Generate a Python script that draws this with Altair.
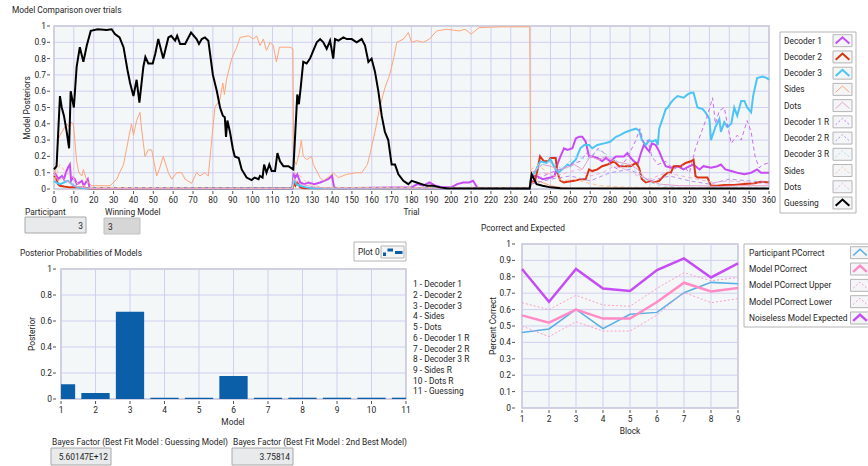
import altair as alt
import pandas as pd

# ---------------------------------------------------------------- data
TRIAL_TICKS = list(range(0, 361, 10))
POSTERIOR_TICKS = [0, 0.1, 0.2, 0.3, 0.4, 0.5, 0.6, 0.7, 0.8, 0.9, 1]

SERIES_NAMES = ["Decoder 1", "Decoder 2", "Decoder 3", "Sides", "Dots",
                "Decoder 1 R", "Decoder 2 R", "Decoder 3 R", "Sides", "Dots",
                "Guessing"]

# (trial, posterior) pairs
DECODER_1 = [(0, 0.1), (1, 0.09), (2, 0.06), (3, 0.07), (4, 0.08), (5, 0.06), (6, 0.1),
             (7, 0.13), (8, 0.15), (8.6, 0.05), (9.5, 0.07), (10.5, 0.06), (11.5, 0.03),
             (13, 0.04), (14, 0.05), (15, 0.02), (16, 0.04), (17, 0.06), (18, 0.005),
             (120, 0.005), (120.7, 0.1), (121.5, 0.07), (122.5, 0.09), (124, 0.04),
             (126, 0.03), (128, 0.04), (131, 0.03), (134, 0.04), (136, 0.05), (138, 0.06),
             (140, 0.08), (141, 0.01), (143, 0.005), (180, 0.01), (183, 0.03), (186, 0.02),
             (189, 0.04), (192, 0.02), (196, 0.01), (200, 0.01), (203, 0.03), (206, 0.04),
             (209, 0.04), (211, 0.05), (213, 0.01), (215, 0.005), (239.5, 0.005),
             (240.3, 0.08), (243, 0.08), (246, 0.06), (250, 0.07), (252, 0.08),
             (253.4, 0.15), (255, 0.2), (256.8, 0.25), (258.5, 0.24), (261, 0.25),
             (262.7, 0.31), (264.4, 0.32), (266, 0.32), (267.7, 0.29), (269.4, 0.2),
             (271, 0.2), (273.6, 0.19), (276, 0.17), (277.8, 0.19), (280, 0.17),
             (283, 0.2), (285, 0.2), (287, 0.2), (288.7, 0.22), (290.4, 0.19),
             (292, 0.17), (293.8, 0.15), (295.5, 0.22), (297, 0.27), (299.7, 0.23),
             (301, 0.28), (303, 0.27), (304.7, 0.23), (306.4, 0.18), (308, 0.14),
             (310.6, 0.13), (314, 0.14), (317, 0.12), (320, 0.14), (322, 0.15),
             (325, 0.12), (327, 0.14), (330.8, 0.13), (334, 0.14), (335.8, 0.15),
             (338, 0.12), (341, 0.11), (344, 0.1), (347.6, 0.09), (351, 0.1),
             (354, 0.12), (356, 0.1), (360, 0.1)]

DECODER_2 = [(0, 0.08), (1, 0.07), (2, 0.03), (3, 0.02), (5, 0.015), (8, 0.01), (12, 0.01),
             (18, 0.003), (120, 0.003), (120.7, 0.04), (121.5, 0.02), (122.5, 0.04),
             (124, 0.01), (126, 0.005), (239.5, 0.003), (240.3, 0.05), (242, 0.04),
             (243.5, 0.12), (244.7, 0.2), (246.7, 0.17), (249, 0.17), (250, 0.19),
             (252.6, 0.19), (253.4, 0.1), (255, 0.05), (256.8, 0.04), (258.5, 0.045),
             (262, 0.05), (265, 0.06), (267.7, 0.06), (269.4, 0.12), (271, 0.11),
             (273.6, 0.12), (276, 0.14), (278.7, 0.15), (282, 0.17), (284.5, 0.14),
             (287, 0.14), (290.4, 0.14), (293, 0.16), (294.6, 0.13), (296, 0.06),
             (298, 0.04), (300.5, 0.05), (302, 0.04), (304.7, 0.05), (307, 0.08),
             (309, 0.1), (310.6, 0.1), (312, 0.14), (315.6, 0.14), (318, 0.16),
             (320.7, 0.17), (322, 0.18), (323, 0.08), (324, 0.07), (329, 0.07),
             (330.8, 0.02), (334, 0.02), (337.5, 0.025), (342.5, 0.025), (347.6, 0.03),
             (352.6, 0.035), (356, 0.045), (360, 0.04)]

DECODER_3 = [(0, 0.05), (1, 0.04), (3, 0.03), (5, 0.04), (7, 0.05), (8, 0.04), (10, 0.02),
             (12, 0.01), (15, 0.005), (120, 0.003), (120.7, 0.06), (122, 0.03), (124, 0.02),
             (127, 0.01), (130, 0.005), (239.5, 0.003), (240.3, 0.08), (242, 0.1),
             (244, 0.15), (245, 0.17), (248, 0.16), (250, 0.18), (252.6, 0.12), (254, 0.1),
             (256.8, 0.13), (258.5, 0.15), (260, 0.14), (261, 0.16), (262.7, 0.18),
             (265, 0.25), (267, 0.27), (269.4, 0.27), (271, 0.25), (273.6, 0.27),
             (277, 0.28), (280, 0.29), (283, 0.32), (285, 0.33), (288, 0.35),
             (290.4, 0.36), (293, 0.37), (294.6, 0.36), (296, 0.3), (298, 0.27),
             (299.7, 0.3), (301, 0.29), (303, 0.3), (304, 0.27), (304.7, 0.37),
             (306.4, 0.43), (308, 0.49), (309, 0.5), (310.6, 0.53), (312, 0.55),
             (314, 0.57), (317, 0.56), (319, 0.58), (320.7, 0.59), (322, 0.59),
             (324, 0.5), (326.6, 0.49), (328, 0.47), (330, 0.43), (330.8, 0.3),
             (331.6, 0.33), (333, 0.38), (335, 0.43), (335.8, 0.35), (337.5, 0.41),
             (339, 0.38), (341, 0.4), (342.5, 0.5), (344, 0.45), (346, 0.54),
             (347.6, 0.54), (349, 0.5), (351, 0.47), (352, 0.57), (354, 0.68),
             (356.8, 0.69), (359, 0.68), (360, 0.67)]

SIDES = [(0, 0.08), (1, 0.12), (2, 0.3), (3, 0.33), (4.5, 0.36), (6.4, 0.4), (7.5, 0.38),
         (8.5, 0.41), (9.7, 0.4), (10.5, 0.3), (11.4, 0.17), (12.5, 0.1), (14, 0.08),
         (14.8, 0.12), (15.3, 0.1), (16.5, 0.05), (18.9, 0.02), (28.2, 0.02),
         (31.6, 0.06), (33, 0.1), (35, 0.15), (37.4, 0.3), (39, 0.4), (40, 0.33),
         (41.6, 0.42), (43.3, 0.47), (44, 0.38), (45.8, 0.2), (47.5, 0.24), (49.2, 0.24),
         (51.7, 0.08), (53, 0.12), (55, 0.2), (57.6, 0.1), (59.3, 0.06), (61.8, 0.1),
         (64.3, 0.1), (66, 0.06), (69.3, 0.035), (71.8, 0.1), (73.5, 0.08), (76, 0.1),
         (77.7, 0.08), (79.4, 0.3), (81, 0.5), (83.6, 0.55), (85, 0.65), (85.8, 0.58),
         (87, 0.68), (89.5, 0.8), (92, 0.87), (93.7, 0.93), (97.9, 0.94), (100.4, 0.92),
         (102, 0.94), (103.7, 0.88), (105.4, 0.92), (107, 0.85), (108.8, 0.9),
         (110.4, 0.88), (112, 0.78), (113.5, 0.87), (118.8, 0.87), (120.3, 0.86),
         (120.7, 0.18), (122, 0.15), (123.5, 0.22), (124.5, 0.3), (125.5, 0.2),
         (127.2, 0.18), (129.7, 0.2), (130.6, 0.15), (134, 0.07), (135.6, 0.05),
         (139, 0.08), (140.6, 0.1), (143.2, 0.07), (147.4, 0.09), (152.4, 0.1),
         (154.9, 0.1), (157.8, 0.15), (159.2, 0.22), (161.6, 0.35), (164, 0.5),
         (166.6, 0.62), (169, 0.7), (171, 0.8), (172.6, 0.9), (176, 0.92), (178.4, 0.96),
         (180, 0.9), (182.6, 0.91), (186, 0.9), (189, 0.92), (192.7, 0.97),
         (197.7, 0.98), (204, 0.97), (207, 0.98), (210, 0.95), (214, 0.99),
         (225, 0.995), (239.5, 0.995), (240, 0.03), (243, 0.05), (246, 0.04),
         (250, 0.02), (255, 0.01), (260, 0.005), (360, 0.003)]

DOTS = [(0, 0.1), (2, 0.05), (4, 0.07), (6, 0.05), (8, 0.04), (10, 0.02), (14, 0.01),
        (18, 0.003), (120, 0.003), (121, 0.06), (124, 0.03), (128, 0.02), (132, 0.01),
        (136, 0.005), (239.5, 0.003), (240.5, 0.1), (243, 0.12), (246, 0.15),
        (250, 0.14), (254, 0.12), (258, 0.13), (262, 0.15), (266, 0.12), (270, 0.2),
        (274, 0.18), (278, 0.2), (282, 0.17), (286, 0.16), (290, 0.15), (294, 0.12),
        (298, 0.06), (305, 0.03), (315, 0.02), (325, 0.02), (335, 0.015), (345, 0.02),
        (360, 0.02)]

DECODER_1_R = [(240.3, 0.05), (245, 0.07), (250, 0.1), (255, 0.12), (260, 0.15), (265, 0.17),
               (268, 0.22), (271, 0.2), (274, 0.25), (277, 0.22), (280, 0.15), (284, 0.12),
               (288, 0.18), (291, 0.25), (293, 0.3), (295, 0.37), (297, 0.28), (299, 0.3),
               (301, 0.2), (304, 0.15), (308, 0.17), (312, 0.12), (316, 0.15), (320, 0.1),
               (323, 0.25), (326, 0.35), (329, 0.45), (331.6, 0.56), (333, 0.4), (335, 0.48),
               (337.5, 0.5), (339, 0.4), (341, 0.28), (344, 0.33), (346, 0.3), (349, 0.42),
               (351, 0.35), (353, 0.2), (355, 0.13), (357, 0.15), (360, 0.16)]

DECODER_2_R = [(240.3, 0.03), (250, 0.06), (260, 0.08), (270, 0.05), (280, 0.1), (290, 0.12),
               (300, 0.05), (310, 0.08), (320, 0.05), (330, 0.03), (340, 0.06), (350, 0.05),
               (360, 0.04)]

DECODER_3_R = [(240.3, 0.08), (244, 0.14), (250, 0.17), (256, 0.12), (262, 0.2), (268, 0.18),
               (274, 0.24), (280, 0.2), (286, 0.15), (292, 0.12), (298, 0.05), (305, 0.02),
               (315, 0.01), (360, 0.01)]

SIDES_R = [(0, 0.05), (3, 0.15), (6, 0.1), (9, 0.08), (12, 0.03), (18, 0.01), (120, 0.005),
           (121, 0.1), (124, 0.08), (128, 0.03), (135, 0.01), (239.5, 0.01), (240.3, 0.12),
           (244, 0.15), (248, 0.1), (252, 0.08), (256, 0.05), (262, 0.06), (268, 0.04),
           (275, 0.02), (290, 0.01), (360, 0.005)]

DOTS_R = [(240.3, 0.06), (246, 0.1), (252, 0.08), (258, 0.1), (264, 0.12), (270, 0.08),
          (276, 0.1), (282, 0.14), (288, 0.12), (294, 0.08), (300, 0.06), (308, 0.1),
          (316, 0.08), (324, 0.06), (332, 0.04), (340, 0.05), (350, 0.04), (360, 0.03)]

GUESSING = [(0, 0.12), (1.3, 0.14), (3, 0.57), (3.9, 0.5), (5, 0.45), (6.4, 0.35), (7.6, 0.25),
            (8.4, 0.6), (9.2, 0.55), (10, 0.5), (11.4, 0.75), (13, 0.87), (14.8, 0.78),
            (16.5, 0.88), (18.5, 0.97), (22, 0.98), (26.5, 0.975), (29, 0.98), (30.7, 0.95),
            (33, 0.93), (35, 0.87), (37, 0.73), (38.3, 0.65), (40, 0.57), (41.6, 0.67),
            (43, 0.53), (45, 0.75), (46, 0.81), (47.5, 0.77), (49.7, 0.77), (51, 0.83),
            (52.5, 0.92), (55, 0.8), (57.6, 0.93), (59, 0.94), (61, 0.91), (62, 0.94),
            (63.5, 0.89), (66, 0.89), (69, 0.96), (71.8, 0.92), (73, 0.89), (74.4, 0.92),
            (76, 0.93), (77.7, 0.91), (80, 0.7), (82, 0.6), (83.6, 0.5), (85, 0.45),
            (86, 0.44), (86.6, 0.32), (87.3, 0.42), (88.6, 0.35), (90, 0.25), (91, 0.2),
            (93, 0.19), (94.5, 0.12), (97, 0.07), (99.5, 0.055), (101, 0.07), (103, 0.06),
            (103.7, 0.08), (105, 0.07), (105.8, 0.15), (107, 0.1), (108.4, 0.15),
            (109.6, 0.11), (111.3, 0.11), (112.5, 0.22), (113.8, 0.17), (115.5, 0.14),
            (118, 0.14), (120.5, 0.12), (121.5, 0.35), (122.5, 0.58), (123.3, 0.52),
            (124.2, 0.62), (125.5, 0.78), (127.2, 0.77), (128.9, 0.8), (130.6, 0.85),
            (132.3, 0.9), (134, 0.92), (135.6, 0.9), (137.3, 0.86), (139, 0.91),
            (140.6, 0.8), (141.5, 0.92), (143.2, 0.91), (145.7, 0.93), (147.4, 0.92),
            (149.9, 0.92), (152.4, 0.9), (154.9, 0.92), (156.6, 0.88), (158.3, 0.78),
            (159.9, 0.8), (161.6, 0.72), (163.3, 0.6), (165, 0.45), (166.6, 0.35),
            (168.3, 0.3), (170, 0.15), (171.7, 0.15), (173.4, 0.09), (175.9, 0.05),
            (178.4, 0.03), (180.1, 0.05), (182.6, 0.04), (185.1, 0.03), (187.7, 0.02),
            (191, 0.02), (194.4, 0.01), (197.7, 0.005), (239.5, 0.003), (240.5, 0.09),
            (243, 0.03), (246, 0.02), (250, 0.01), (255, 0.004), (360, 0.003)]

SERIES_POINTS = [DECODER_1, DECODER_2, DECODER_3, SIDES, DOTS,
                 DECODER_1_R, DECODER_2_R, DECODER_3_R, SIDES_R, DOTS_R, GUESSING]

MODEL_NUMBERS = [1, 2, 3, 4, 5, 6, 7, 8, 9, 10, 11]
MODEL_POSTERIORS = [0.113, 0.046, 0.672, 0.01, 0.01, 0.177, 0.01, 0.01, 0.01, 0.01, 0.01]
MODEL_NAMES = ["1 - Decoder 1", "2 - Decoder 2", "3 - Decoder 3", "4 - Sides", "5 - Dots",
               "6 - Decoder 1 R", "7 - Decoder 2 R", "8 - Decoder 3 R", "9 - Sides R",
               "10 - Dots R", "11 - Guessing"]
MODEL_Y_TICKS = [0, 0.2, 0.4, 0.6, 0.8, 1]

BLOCKS = [1, 2, 3, 4, 5, 6, 7, 8, 9]
PARTICIPANT_PCORRECT = [0.461, 0.482, 0.601, 0.484, 0.571, 0.583, 0.703, 0.766, 0.758]
MODEL_PCORRECT = [0.565, 0.52, 0.6, 0.545, 0.545, 0.646, 0.764, 0.711, 0.732]
MODEL_PCORRECT_UPPER = [0.642, 0.6, 0.687, 0.628, 0.62, 0.73, 0.825, 0.776, 0.796]
MODEL_PCORRECT_LOWER = [0.5, 0.435, 0.526, 0.469, 0.469, 0.567, 0.705, 0.642, 0.667]
NOISELESS_EXPECTED = [0.848, 0.648, 0.848, 0.728, 0.713, 0.841, 0.912, 0.796, 0.882]
PC_NAMES = ["Participant PCorrect", "Model PCorrect", "Model PCorrect Upper",
            "Model PCorrect Lower", "Noiseless Model Expected"]
PC_SERIES = [PARTICIPANT_PCORRECT, MODEL_PCORRECT, MODEL_PCORRECT_UPPER,
             MODEL_PCORRECT_LOWER, NOISELESS_EXPECTED]

PARTICIPANT_ID = "3"
WINNING_MODEL = "3"
BF_GUESSING = "5.60147E+12"
BF_SECOND = "3.75814"

# ---------------------------------------------------------------- style
W, H = 868, 466
FONT = "Roboto"
FS = 8.4
TEXT = "#1e1e1e"
PLOT_BG = "#f4f7f8"
FRAME = "#c4c4c4"
GRID = "#cfcff0"
TICK = "#555555"
BAR_BLUE = "#0b5ea8"

SERIES_STYLE = [("#c84cf6", 2, None), ("#dc3412", 2, None), ("#4cc4f4", 2, None),
                ("#ffa57a", 1, None), ("#e8a0cc", 1, None),
                ("#cc6cf2", 1, [4, 3]), ("#b890f2", 1, [4, 3]), ("#9edcf6", 1, [4, 3]),
                ("#ffbf9a", 1, [4, 3]), ("#f0b0d8", 1, [4, 3]), ("#000000", 2, None)]
PC_STYLE = [("#5aaee6", 1.5, None), ("#ff8cc6", 2.5, None), ("#ff9ccc", 1, [2, 2]),
            ("#ff9ccc", 1, [2, 2]), ("#c64cf6", 2.5, None)]

ONE = pd.DataFrame({"k": [0]})
BOX_PATH = "M-1,-0.63L1,-0.63L1,0.63L-1,0.63Z"
CHEVRON = "M-0.72,0.3L0,-0.36L0.72,0.3"


def text_at(txt, x, y, align="left", size=FS, color=TEXT, angle=0):
    kw = dict(text=txt, align=align, baseline="middle", font=FONT, fontSize=size, color=color)
    if angle:
        kw["angle"] = angle
    return alt.Chart(ONE).mark_text(**kw).encode(x=alt.value(x), y=alt.value(y))


def box_at(x1, y1, x2, y2, fill, stroke="#a8a8a8", sw=1):
    return alt.Chart(ONE).mark_rect(fill=fill, stroke=stroke, strokeWidth=sw).encode(
        x=alt.value(x1), x2=alt.value(x2), y=alt.value(y1), y2=alt.value(y2))


def panel(xdom, xrng, ydom, yrng, xticks, yticks, xlab_y, ylab_x):
    """Plot frame, grid, tick marks and tick labels, all placed through the scales."""
    xs = alt.Scale(domain=xdom, range=xrng, nice=False, zero=False, clamp=True)
    ys = alt.Scale(domain=ydom, range=yrng, nice=False, zero=False, clamp=True)
    bottom, left = yrng[0], xrng[0]
    xt = pd.DataFrame({"g": xticks})
    yt = pd.DataFrame({"g": yticks})
    bg = alt.Chart(ONE).mark_rect(fill=PLOT_BG, stroke=FRAME, strokeWidth=1.5).encode(
        x=alt.XDatum(xdom[0], type="quantitative", scale=xs, axis=None),
        x2=alt.X2Datum(xdom[1]),
        y=alt.YDatum(ydom[0], type="quantitative", scale=ys, axis=None),
        y2=alt.Y2Datum(ydom[1]))
    vgrid = alt.Chart(xt).mark_rule(color=GRID, strokeWidth=1).encode(
        x=alt.X("g:Q", scale=xs, axis=None),
        y=alt.YDatum(ydom[0], type="quantitative", scale=ys, axis=None),
        y2=alt.Y2Datum(ydom[1]))
    hgrid = alt.Chart(yt).mark_rule(color=GRID, strokeWidth=1).encode(
        y=alt.Y("g:Q", scale=ys, axis=None),
        x=alt.XDatum(xdom[0], type="quantitative", scale=xs, axis=None),
        x2=alt.X2Datum(xdom[1]))
    xtick = alt.Chart(xt).mark_rule(color=TICK, strokeWidth=1).encode(
        x=alt.X("g:Q", scale=xs, axis=None), y=alt.value(bottom + 2), y2=alt.value(bottom + 5))
    xlab = alt.Chart(xt).mark_text(align="center", baseline="middle", font=FONT, fontSize=FS,
                                   color=TEXT).encode(
        x=alt.X("g:Q", scale=xs, axis=None), y=alt.value(xlab_y), text=alt.Text("g:Q", format="d"))
    ytick = alt.Chart(yt).mark_rule(color=TICK, strokeWidth=1).encode(
        y=alt.Y("g:Q", scale=ys, axis=None), x=alt.value(ylab_x + 1), x2=alt.value(ylab_x + 4))
    ylab = alt.Chart(yt).mark_text(align="right", baseline="middle", font=FONT, fontSize=FS,
                                   color=TEXT).encode(
        y=alt.Y("g:Q", scale=ys, axis=None), x=alt.value(ylab_x),
        text=alt.Text("g:Q", format="~g"))
    return xs, ys, [bg, vgrid, hgrid, xtick, xlab, ytick, ylab]


def line_layer(df, xf, yf, xs, ys, style):
    col, w, dash = style
    kw = dict(color=col, strokeWidth=w)
    if dash:
        kw["strokeDash"] = dash
    return alt.Chart(df).mark_line(**kw).encode(
        x=alt.X(xf + ":Q", scale=xs, axis=None), y=alt.Y(yf + ":Q", scale=ys, axis=None))


def legend(names, styles, y0, y1, text_x, icon_x):
    n = len(names)
    df = pd.DataFrame({"idx": list(range(n)), "name": names,
                       "color": [s[0] for s in styles], "w": [s[1] for s in styles],
                       "dashed": [s[2] is not None for s in styles]})
    ysc = alt.Scale(domain=[0, n - 1], range=[y0, y1], nice=False, zero=False)
    yenc = alt.Y("idx:Q", scale=ysc, axis=None)
    labels = alt.Chart(df).mark_text(align="left", baseline="middle", font=FONT, fontSize=FS,
                                     color=TEXT).encode(x=alt.value(text_x), y=yenc, text="name:N")
    boxes = alt.Chart(df).mark_point(shape=BOX_PATH, size=361, filled=True, fill="#f3f5f7",
                                     stroke="#b4b4b4", strokeWidth=1, opacity=1).encode(
        x=alt.value(icon_x), y=yenc)
    solid = alt.Chart(df).transform_filter("!datum.dashed").mark_point(
        shape=CHEVRON, size=361, filled=False, opacity=1).encode(
        x=alt.value(icon_x), y=yenc, stroke=alt.Stroke("color:N", scale=None),
        strokeWidth=alt.StrokeWidth("w:Q", scale=None))
    dashed = alt.Chart(df).transform_filter("datum.dashed").mark_point(
        shape=CHEVRON, size=361, filled=False, opacity=1, strokeDash=[2, 2]).encode(
        x=alt.value(icon_x), y=yenc, stroke=alt.Stroke("color:N", scale=None),
        strokeWidth=alt.StrokeWidth("w:Q", scale=None))
    return [labels, boxes, solid, dashed]


# ---------------------------------------------------------------- top panel
xs_t, ys_t, top_layers = panel([0, 360], [54, 769], [0, 1], [189, 26], TRIAL_TICKS,
                               POSTERIOR_TICKS, 200, 46)
for pts, st in zip(SERIES_POINTS, SERIES_STYLE):
    df = pd.DataFrame(pts, columns=["trial", "posterior"])
    top_layers.append(line_layer(df, "trial", "posterior", xs_t, ys_t, st))
top = alt.layer(*top_layers)

top_leg = alt.layer(box_at(780, 32, 856, 213, "white", "#b4b4b4"),
                    *legend(SERIES_NAMES, SERIES_STYLE, 40.7, 203, 784, 842.5))

# ---------------------------------------------------------------- bottom-left panel
xs_b, ys_b, bl_layers = panel([1, 11], [61, 406], [0, 1], [399, 269], MODEL_NUMBERS,
                              MODEL_Y_TICKS, 410, 52)
bars_df = pd.DataFrame({"model": MODEL_NUMBERS, "posterior": MODEL_POSTERIORS})
bl_layers.insert(3, alt.Chart(bars_df).transform_calculate(
    lo="datum.model - 0.41", hi="datum.model + 0.41").mark_rect(color=BAR_BLUE).encode(
    x=alt.X("lo:Q", scale=xs_b, axis=None), x2="hi:Q",
    y=alt.Y("posterior:Q", scale=ys_b, axis=None), y2=alt.Y2Datum(0)))
bl = alt.layer(*bl_layers)

names_df = pd.DataFrame({"idx": list(range(len(MODEL_NAMES))), "name": MODEL_NAMES})
model_list = alt.Chart(names_df).mark_text(align="left", baseline="middle", font=FONT,
                                           fontSize=FS, color=TEXT).encode(
    x=alt.value(413),
    y=alt.Y("idx:Q", scale=alt.Scale(domain=[0, 10], range=[284.3, 391.3], nice=False,
                                     zero=False), axis=None),
    text="name:N")

# ---------------------------------------------------------------- bottom-right panel
xs_r, ys_r, br_layers = panel([1, 9], [522, 738], [0, 1], [408, 244], BLOCKS,
                              POSTERIOR_TICKS, 419, 511)
for vals, st in zip(PC_SERIES, PC_STYLE):
    df = pd.DataFrame({"block": BLOCKS, "pc": vals})
    br_layers.append(line_layer(df, "block", "pc", xs_r, ys_r, st))
br = alt.layer(*br_layers)

br_leg = alt.layer(box_at(744, 244, 880, 327, "white", "#b4b4b4"),
                   *legend(PC_NAMES, PC_STYLE, 252.7, 318, 749, 860))

# ---------------------------------------------------------------- annotations
annotations = [
    text_at("Model Comparison over trials", 12, 10),
    text_at("Trial", 411.5, 212, align="center"),
    text_at("Model Posteriors", 27, 108, align="center", angle=270),
    text_at("Participant", 25, 212),
    box_at(25, 217, 86, 233, "#e8eaec"),
    text_at(PARTICIPANT_ID, 83, 225.5, align="right"),
    text_at("Winning Model", 105, 212),
    box_at(104, 218, 140, 234, "#d6d6d6", "#c0c0c0"),
    text_at(WINNING_MODEL, 108, 226.5),
    text_at("Posterior Probabilities of Models", 20, 253),
    text_at("Model", 233, 422, align="center"),
    text_at("Posterior", 32, 334, align="center", angle=270),
    box_at(354, 242, 406, 261, "white", "#b4b4b4"),
    text_at("Plot 0", 358, 252),
    box_at(381, 246, 404, 258, "#f3f5f7", "#b4b4b4"),
    box_at(383, 252.5, 386, 256, BAR_BLUE, BAR_BLUE, 0),
    box_at(387.5, 248.5, 393, 251.5, BAR_BLUE, BAR_BLUE, 0),
    box_at(395, 251, 402.5, 254, BAR_BLUE, BAR_BLUE, 0),
    text_at("Bayes Factor (Best Fit Model : Guessing Model)", 52, 442),
    text_at("Bayes Factor (Best Fit Model : 2nd Best Model)", 233, 442),
    box_at(51, 448, 111, 465, "#e8eaec"),
    box_at(232, 448, 293, 465, "#e8eaec"),
    text_at(BF_GUESSING, 108, 456.5, align="right"),
    text_at(BF_SECOND, 290, 456.5, align="right"),
    text_at("Pcorrect and Expected", 481, 228),
    text_at("Block", 630, 430.5, align="center"),
    text_at("Percent Correct", 493, 326, align="center", angle=270),
]

chart = alt.layer(top, top_leg, bl, model_list, br, br_leg, *annotations).resolve_scale(
    x="independent", y="independent").properties(
    width=W, height=H, autosize=alt.AutoSizeParams(type="none"), padding=0,
    background="white").configure_view(stroke=None)

chart.save("out.html", embed_options={"renderer": "svg", "actions": False})
